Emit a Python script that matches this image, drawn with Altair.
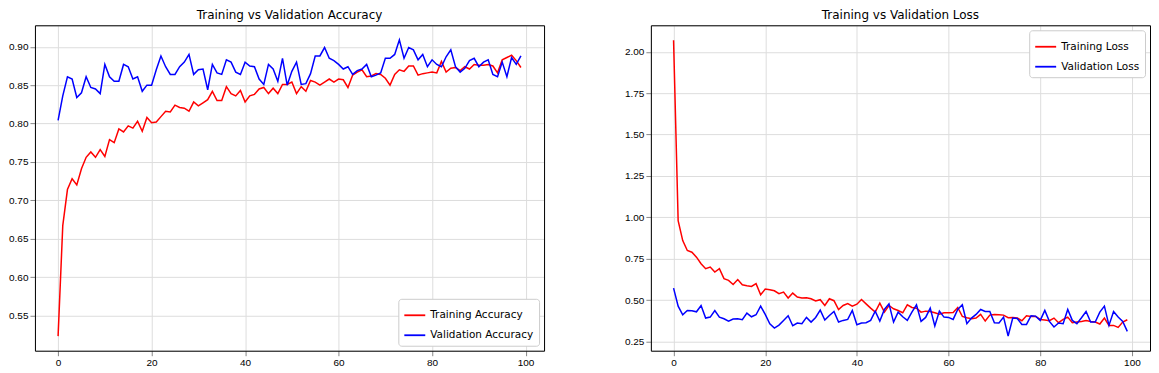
import altair as alt
import pandas as pd

epochs = list(range(100))

train_acc = [
    0.523, 0.667, 0.714, 0.728, 0.720, 0.741, 0.756, 0.763, 0.756, 0.766,
    0.757, 0.779, 0.775, 0.793, 0.789, 0.797, 0.794, 0.803, 0.790, 0.808,
    0.801, 0.802, 0.809, 0.816, 0.815, 0.824, 0.821, 0.820, 0.816, 0.828,
    0.823, 0.827, 0.831, 0.842, 0.830, 0.830, 0.848, 0.839, 0.836, 0.843,
    0.828, 0.836, 0.838, 0.845, 0.847, 0.839, 0.846, 0.839, 0.851, 0.851,
    0.854, 0.839, 0.848, 0.842, 0.856, 0.854, 0.850, 0.854, 0.858, 0.854,
    0.858, 0.857, 0.847, 0.863, 0.867, 0.870, 0.861, 0.862, 0.865, 0.864,
    0.859, 0.850, 0.864, 0.870, 0.868, 0.875, 0.875, 0.863, 0.865, 0.866,
    0.867, 0.866, 0.881, 0.867, 0.872, 0.873, 0.869, 0.874, 0.871, 0.877,
    0.876, 0.876, 0.877, 0.875, 0.866, 0.883, 0.886, 0.889, 0.882, 0.873,
]
val_acc = [
    0.804, 0.836, 0.861, 0.858, 0.834, 0.840, 0.861, 0.847, 0.845, 0.839,
    0.877, 0.861, 0.855, 0.855, 0.877, 0.874, 0.858, 0.861, 0.842, 0.850,
    0.850, 0.870, 0.888, 0.874, 0.864, 0.864, 0.874, 0.880, 0.890, 0.864,
    0.870, 0.871, 0.844, 0.877, 0.866, 0.864, 0.883, 0.880, 0.867, 0.864,
    0.880, 0.875, 0.874, 0.858, 0.851, 0.877, 0.871, 0.855, 0.885, 0.850,
    0.868, 0.880, 0.851, 0.852, 0.865, 0.888, 0.888, 0.899, 0.885, 0.882,
    0.877, 0.871, 0.874, 0.864, 0.869, 0.871, 0.877, 0.861, 0.863, 0.866,
    0.885, 0.885, 0.890, 0.909, 0.885, 0.899, 0.896, 0.883, 0.890, 0.874,
    0.883, 0.877, 0.874, 0.887, 0.896, 0.874, 0.867, 0.872, 0.882, 0.885,
    0.874, 0.880, 0.883, 0.864, 0.861, 0.880, 0.861, 0.886, 0.877, 0.888,
]
train_loss = [
    2.070, 0.980, 0.860, 0.800, 0.790, 0.760, 0.720, 0.690, 0.700, 0.670,
    0.690, 0.630, 0.620, 0.595, 0.625, 0.593, 0.587, 0.583, 0.600, 0.533,
    0.567, 0.563, 0.557, 0.539, 0.549, 0.513, 0.543, 0.519, 0.513, 0.515,
    0.509, 0.495, 0.503, 0.468, 0.509, 0.497, 0.444, 0.468, 0.480, 0.464,
    0.476, 0.504, 0.478, 0.452, 0.428, 0.482, 0.428, 0.468, 0.448, 0.438,
    0.424, 0.472, 0.456, 0.452, 0.428, 0.434, 0.432, 0.424, 0.416, 0.424,
    0.424, 0.426, 0.456, 0.402, 0.394, 0.388, 0.392, 0.414, 0.374, 0.410,
    0.414, 0.412, 0.410, 0.394, 0.396, 0.392, 0.376, 0.406, 0.402, 0.402,
    0.384, 0.380, 0.376, 0.392, 0.364, 0.384, 0.398, 0.364, 0.368, 0.372,
    0.378, 0.372, 0.368, 0.356, 0.392, 0.348, 0.348, 0.336, 0.368, 0.382,
]
val_loss = [
    0.573, 0.464, 0.412, 0.438, 0.436, 0.430, 0.468, 0.392, 0.398, 0.438,
    0.398, 0.388, 0.374, 0.386, 0.388, 0.382, 0.422, 0.400, 0.412, 0.464,
    0.414, 0.358, 0.332, 0.350, 0.378, 0.406, 0.346, 0.362, 0.358, 0.396,
    0.368, 0.396, 0.440, 0.380, 0.408, 0.432, 0.368, 0.378, 0.384, 0.438,
    0.352, 0.362, 0.364, 0.378, 0.434, 0.374, 0.444, 0.478, 0.368, 0.428,
    0.400, 0.378, 0.428, 0.472, 0.372, 0.396, 0.452, 0.344, 0.434, 0.398,
    0.396, 0.384, 0.444, 0.472, 0.358, 0.392, 0.414, 0.444, 0.432, 0.432,
    0.364, 0.362, 0.398, 0.284, 0.392, 0.390, 0.354, 0.354, 0.406, 0.404,
    0.378, 0.438, 0.372, 0.338, 0.362, 0.358, 0.444, 0.378, 0.358, 0.394,
    0.432, 0.368, 0.368, 0.428, 0.464, 0.348, 0.432, 0.398, 0.372, 0.312,
]

x_ticks = [0, 20, 40, 60, 80, 100]
acc_ticks = [0.55, 0.60, 0.65, 0.70, 0.75, 0.80, 0.85, 0.90]
loss_ticks = [0.25, 0.50, 0.75, 1.00, 1.25, 1.50, 1.75, 2.00]

acc_names = ["Training Accuracy", "Validation Accuracy"]
loss_names = ["Training Loss", "Validation Loss"]
colors = ["#ff0000", "#0000ff"]

acc_df = pd.DataFrame({
    "epoch": epochs * 2,
    "value": train_acc + val_acc,
    "series": [acc_names[0]] * 100 + [acc_names[1]] * 100,
})
loss_df = pd.DataFrame({
    "epoch": epochs * 2,
    "value": train_loss + val_loss,
    "series": [loss_names[0]] * 100 + [loss_names[1]] * 100,
})

FONT = "DejaVu Sans"
XDOM = [-4.95, 103.95]


def panel(df, names, title, yticks, ydomain, legend_orient, w):
    base = alt.Chart(df)
    xs = alt.Scale(domain=XDOM, nice=False, zero=False)
    ys = alt.Scale(domain=ydomain, nice=False, zero=False)
    lines = base.mark_line(strokeWidth=1.5, clip=True).encode(
        x=alt.X("epoch:Q", scale=xs,
                axis=alt.Axis(values=x_ticks, format="d", title=None,
                              domain=True, domainColor="black", domainWidth=1)),
        y=alt.Y("value:Q", scale=ys,
                axis=alt.Axis(values=yticks, format=".2f", title=None,
                              domain=True, domainColor="black", domainWidth=1)),
        color=alt.Color("series:N", sort=names,
                        scale=alt.Scale(domain=names, range=colors),
                        legend=alt.Legend(title=None, orient=legend_orient,
                                          symbolType="stroke", symbolSize=440,
                                          symbolStrokeWidth=1.8,
                                          labelFont=FONT, labelFontSize=10.5,
                                          labelColor="black",
                                          fillColor="white", strokeColor="#cccccc",
                                          padding=5, cornerRadius=3,
                                          rowPadding=3, offset=5)),
        order=alt.Order("epoch:Q"),
    )
    frame = base.mark_line(opacity=0).encode(
        x=alt.X("epoch:Q", scale=xs,
                axis=alt.Axis(orient="top", labels=False, ticks=False, grid=False,
                              title=None, domain=True, domainColor="black",
                              domainWidth=1, minExtent=0, maxExtent=0)),
        y=alt.Y("value:Q", scale=ys,
                axis=alt.Axis(orient="right", labels=False, ticks=False, grid=False,
                              title=None, domain=True, domainColor="black",
                              domainWidth=1, minExtent=0, maxExtent=0)),
        detail="series:N",
    )
    return alt.layer(lines, frame, title=alt.TitleParams(
        title, fontSize=12, fontWeight="normal", font=FONT, color="black", offset=3)
    ).resolve_axis(x="independent", y="independent").properties(width=w, height=326)


left = panel(acc_df, acc_names, "Training vs Validation Accuracy", acc_ticks,
             [0.504, 0.928], "bottom-right", 510)
right = panel(loss_df, loss_names, "Training vs Validation Loss", loss_ticks,
              [0.195, 2.16], "top-right", 500)

chart = alt.hconcat(left, right, spacing=79).resolve_scale(
    color="independent", x="independent", y="independent"
).resolve_legend(color="independent").properties(
    padding={"left": 0, "top": 0, "right": 0, "bottom": 0}
).configure_view(
    stroke="transparent", strokeWidth=0
).configure_axis(
    domain=False, grid=True, gridColor="#a8a8a8", gridWidth=1,
    tickColor="black", tickSize=4, labelColor="black", labelFont=FONT,
    labelFontSize=10.5, labelPadding=3
).configure(background="white")

chart.save("out.html", embed_options={"renderer": "svg", "actions": False})
